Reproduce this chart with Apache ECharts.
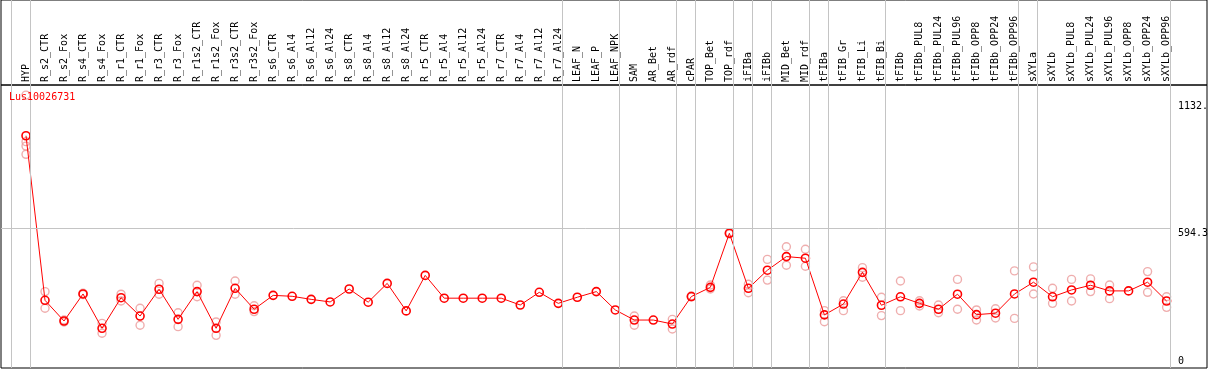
<!DOCTYPE html>
<html><head><meta charset="utf-8">
<script src="https://cdn.jsdelivr.net/npm/echarts@6/dist/echarts.min.js"></script>
<style>html,body{margin:0;padding:0;background:#fff}#c{width:1209px;height:370px}</style>
</head><body><div id="c"></div>
<script>
const chartTitle = 'Lus10026731';
const categories = ['HYP','R_s2_CTR','R_s2_Fox','R_s4_CTR','R_s4_Fox','R_r1_CTR','R_r1_Fox','R_r3_CTR','R_r3_Fox','R_r1s2_CTR','R_r1s2_Fox','R_r3s2_CTR','R_r3s2_Fox','R_s6_CTR','R_s6_Al4','R_s6_Al12','R_s6_Al24','R_s8_CTR','R_s8_Al4','R_s8_Al12','R_s8_Al24','R_r5_CTR','R_r5_Al4','R_r5_Al12','R_r5_Al24','R_r7_CTR','R_r7_Al4','R_r7_Al12','R_r7_Al24','LEAF_N','LEAF_P','LEAF_NPK','SAM','AR_Bet','AR_rdf','cPAR','TOP_Bet','TOP_rdf','iFIBa','iFIBb','MID_Bet','MID_rdf','tFIBa','tFIB_Gr','tFIB_Li','tFIB_Bi','tFIBb','tFIBb_PUL8','tFIBb_PUL24','tFIBb_PUL96','tFIBb_OPP8','tFIBb_OPP24','tFIBb_OPP96','sXYLa','sXYLb','sXYLb_PUL8','sXYLb_PUL24','sXYLb_PUL96','sXYLb_OPP8','sXYLb_OPP24','sXYLb_OPP96'];
const meanValues = [988,288,200,315,169,299,221,335,207,325,169,339,250,309,305,292,281,336,280,360,243,394,297,297,297,297,268,322,275,301,325,247,204,204,187,304,343,573,339,416,474,467,226,272,407,267,303,275,250,314,227,233,315,365,303,332,352,328,328,365,285];
const replicates = [[1161,963,944,909],[325,254],[204,196],[318,312],[190,148],[314,285],[254,182],[360,314],[235,176],[352,303],[196,139],[370,314],[265,240],[],[],[],[],[],[],[],[],[],[],[],[],[],[],[],[],[],[],[],[221,182],[],[207,166],[306,302],[353,336],[576,570],[356,320],[462,374],[516,437],[505,433],[244,197],[286,244],[427,386],[301,223],[370,244],[286,264],[268,235],[377,250],[247,204],[252,213],[413,211],[430,315],[339,275],[377,285],[379,325],[353,295],[],[410,322],[303,258]];
const groupBreaks = [-1,0,28,31,34,35,37,38,39,41,42,45,52,53,60];
const yTickValues = [1132, 594.3, 0];
const yTickLabels = ['1132.', '594.3', '0'];
const gridLineValue = 594.3;

const FONT = 'DejaVu Sans Mono';
const Y_MAX = 1203.9;
const X_MIN = -1.3151, X_MAX = 62.125;
const BREAK_OFF = 0.21;

const chart = echarts.init(document.getElementById('c'), null, {renderer: 'canvas'});
const repData = [];
replicates.forEach((arr, i) => arr.forEach(v => repData.push([i, v])));

const option = {
  animation: false,
  title: {text: chartTitle, left: 9, top: 92, padding: 0,
    textStyle: {color: '#ff0000', fontSize: 10, fontFamily: FONT, fontWeight: 'normal'}},
  grid: [
    {left: 16.5, right: 32.9, top: 85, bottom: 2},
    {left: 1, right: 2, top: 85, bottom: 2, show: true, borderColor: '#000', borderWidth: 1, backgroundColor: 'transparent'},
    {left: 1, right: 2, top: 0, height: 85, show: true, borderColor: '#000', borderWidth: 1, backgroundColor: 'transparent'}
  ],
  xAxis: [
    {type: 'category', gridIndex: 0, position: 'top', data: categories, boundaryGap: true,
      axisLine: {show: false}, axisTick: {show: false}, splitLine: {show: false},
      axisLabel: {rotate: 90, interval: 0, margin: 3, fontFamily: FONT, fontSize: 10, color: '#000'}},
    {type: 'value', gridIndex: 1, min: X_MIN, max: X_MAX, show: false},
    {type: 'value', gridIndex: 2, min: X_MIN, max: X_MAX, show: false}
  ],
  yAxis: [
    {type: 'value', gridIndex: 0, min: 0, max: Y_MAX, show: false},
    {type: 'value', gridIndex: 1, min: 0, max: Y_MAX, show: false},
    {type: 'value', gridIndex: 2, min: 0, max: 1, show: false}
  ],
  series: [
    {type: 'line', xAxisIndex: 1, yAxisIndex: 1, data: [], silent: true,
      markLine: {silent: true, symbol: 'none', label: {show: false},
        lineStyle: {color: '#c4c4c4', type: 'solid', width: 1},
        data: groupBreaks.map(b => ({xAxis: b + BREAK_OFF})).concat([
          [{coord: [X_MIN, gridLineValue]}, {coord: [groupBreaks[groupBreaks.length - 1] + BREAK_OFF, gridLineValue]}]
        ])}},
    {type: 'line', xAxisIndex: 2, yAxisIndex: 2, data: [], silent: true,
      markLine: {silent: true, symbol: 'none', label: {show: false},
        lineStyle: {color: '#c4c4c4', type: 'solid', width: 1},
        data: groupBreaks.map(b => ({xAxis: b + BREAK_OFF}))}},
    {type: 'scatter', xAxisIndex: 0, yAxisIndex: 0, data: repData, symbol: 'circle', symbolSize: 8, z: 3,
      itemStyle: {color: 'rgba(255,255,255,0)', borderColor: '#eb9a9a', borderWidth: 1.4}},
    {type: 'line', xAxisIndex: 0, yAxisIndex: 0, data: meanValues, symbol: 'circle', symbolSize: 8, z: 4,
      showAllSymbol: true,
      lineStyle: {color: '#ff0000', width: 1},
      itemStyle: {color: 'rgba(255,255,255,0)', borderColor: '#ff0000', borderWidth: 1.6}}
  ]
};
chart.setOption(option);

const graphics = yTickValues.map((v, k) => {
  const py = chart.convertToPixel({yAxisIndex: 1}, v);
  const isBottom = (v === 0);
  return {type: 'text', x: 1178, y: isBottom ? py - 2 : py, silent: true,
    style: {text: yTickLabels[k], fill: '#000', font: '10px "' + FONT + '"',
      textVerticalAlign: isBottom ? 'bottom' : 'top', verticalAlign: isBottom ? 'bottom' : 'top'}};
});
chart.setOption({graphic: graphics});
</script>
</body></html>
